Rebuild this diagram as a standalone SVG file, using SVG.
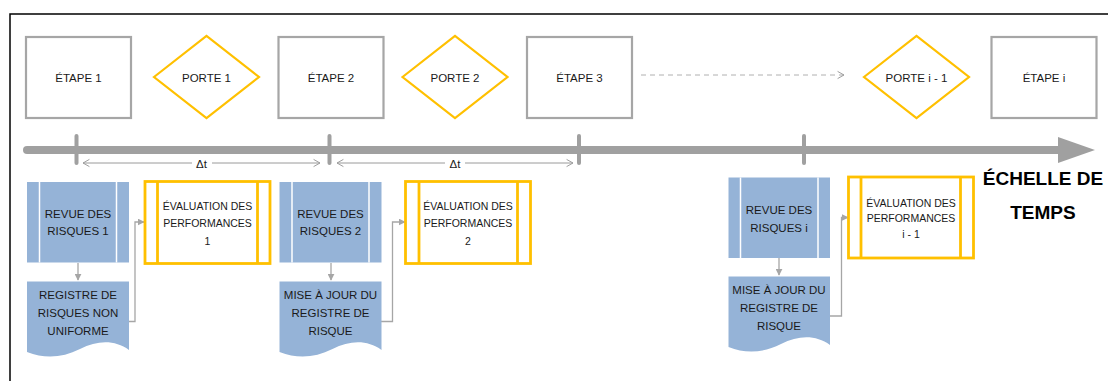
<svg xmlns="http://www.w3.org/2000/svg" width="1108" height="381" viewBox="0 0 1108 381">
<defs>
<style>
text{font-family:"Liberation Sans",Arial,sans-serif;fill:#1a1a1a;text-anchor:middle}
.lbl{font-size:11.5px}
.ev{font-size:10.5px}
.big{font-size:19px;font-weight:bold;fill:#000}
.etape{fill:#fff;stroke:#a6a6a6;stroke-width:2.2}
.porte{fill:#fff;stroke:#ffc000;stroke-width:2.2}
.blue{fill:#95b3d7}
.sep{stroke:#fff;stroke-width:1.5}
.eval{fill:#fff;stroke:#ffc000;stroke-width:2.8}
.conn{fill:none;stroke:#a6a6a6;stroke-width:1.3}
.dim{fill:none;stroke:#9a9a9a;stroke-width:1}
.tick{stroke:#a0a0a0;stroke-width:4;stroke-linecap:round}
</style>
<marker id="fa" viewBox="0 0 10 10" refX="9" refY="5" markerWidth="7" markerHeight="7" markerUnits="userSpaceOnUse" orient="auto">
<path d="M0,0 L10,5 L0,10 Z" fill="#a6a6a6"/>
</marker>
<marker id="oa" viewBox="0 0 10 10" refX="9" refY="5" markerWidth="8" markerHeight="10" markerUnits="userSpaceOnUse" orient="auto-start-reverse">
<path d="M1,0.5 L9,5 L1,9.5" fill="none" stroke="#9a9a9a" stroke-width="1.2"/>
</marker>
</defs>
<rect width="1108" height="381" fill="#fff"/>
<rect x="10" y="14" width="1200" height="500" fill="none" stroke="#000" stroke-width="1.5"/>

<g id="timeline">
<line x1="27" y1="150" x2="1060" y2="150" stroke="#a0a0a0" stroke-width="8" stroke-linecap="round"/>
<polygon points="1058,137 1095,150 1058,163" fill="#a0a0a0"/>
<line class="tick" x1="76.5" y1="136" x2="76.5" y2="163"/>
<line class="tick" x1="329.5" y1="136" x2="329.5" y2="163"/>
<line class="tick" x1="579" y1="136" x2="579" y2="163"/>
<line class="tick" x1="804" y1="136" x2="804" y2="163"/>
</g>

<g id="connectors">
<line class="dim" x1="83" y1="163" x2="320" y2="163" marker-start="url(#oa)" marker-end="url(#oa)"/>
<line class="dim" x1="337" y1="163" x2="573" y2="163" marker-start="url(#oa)" marker-end="url(#oa)"/>
<rect x="192" y="156" width="20" height="13" fill="#fff"/>
<rect x="445" y="156" width="20" height="13" fill="#fff"/>
<text class="lbl" x="201.5" y="167.5">Δt</text>
<text class="lbl" x="455" y="167.5">Δt</text>
<line x1="641" y1="75" x2="844" y2="75" stroke="#b0b0b0" stroke-width="1" stroke-dasharray="5,4" marker-end="url(#oa)"/>
<line class="conn" x1="78" y1="263" x2="78" y2="280" marker-end="url(#fa)"/>
<line class="conn" x1="331" y1="263" x2="331" y2="280" marker-end="url(#fa)"/>
<line class="conn" x1="779" y1="258" x2="779" y2="275" marker-end="url(#fa)"/>
<polyline class="conn" points="129,321.5 135,321.5 135,222 144,222" marker-end="url(#fa)"/>
<polyline class="conn" points="381,321.5 392.5,321.5 392.5,222 405,222" marker-end="url(#fa)"/>
<polyline class="conn" points="830,316 841.5,316 841.5,217.5 848,217.5" marker-end="url(#fa)"/>
</g>

<g id="etape1"><rect class="etape" x="26" y="37" width="105" height="81"/><text class="lbl" x="78.5" y="81.5">ÉTAPE 1</text></g>
<g id="porte1"><polygon class="porte" points="154,77 206.5,36 259,77 206.5,118"/><text class="lbl" x="206.5" y="81.5">PORTE 1</text></g>
<g id="etape2"><rect class="etape" x="278.5" y="37" width="105" height="81"/><text class="lbl" x="331" y="81.5">ÉTAPE 2</text></g>
<g id="porte2"><polygon class="porte" points="402.5,77 455,36 507.5,77 455,118"/><text class="lbl" x="455" y="81.5">PORTE 2</text></g>
<g id="etape3"><rect class="etape" x="527" y="37" width="105" height="81"/><text class="lbl" x="579.5" y="81.5">ÉTAPE 3</text></g>
<g id="portei1"><polygon class="porte" points="864,77 916.5,36 969,77 916.5,118"/><text class="lbl" x="916.5" y="81.5">PORTE i - 1</text></g>
<g id="etapei"><rect class="etape" x="991.5" y="37" width="105" height="81"/><text class="lbl" x="1044" y="81.5">ÉTAPE i</text></g>

<g id="revue1"><rect class="blue" x="27" y="182" width="102" height="80.5"/><line class="sep" x1="39.5" y1="182" x2="39.5" y2="262.5"/><line class="sep" x1="116.5" y1="182" x2="116.5" y2="262.5"/>
<text class="lbl" x="78" y="217.5">REVUE DES</text><text class="lbl" x="78" y="235">RISQUES 1</text></g>
<g id="registre1"><path class="blue" d="M27,281.5 H129 V350 C115,340 98,340 80,349 C62,358 45,359 27,352 Z"/>
<text class="lbl" x="78" y="299">REGISTRE DE</text><text class="lbl" x="78" y="317">RISQUES NON</text><text class="lbl" x="78" y="335">UNIFORME</text></g>
<g id="eval1"><rect class="eval" x="145" y="181.5" width="125" height="82"/><line class="eval" x1="157.5" y1="181.5" x2="157.5" y2="263.5"/><line class="eval" x1="257.5" y1="181.5" x2="257.5" y2="263.5"/>
<text class="ev" x="207.5" y="209.5">ÉVALUATION DES</text><text class="ev" x="207.5" y="227">PERFORMANCES</text><text class="ev" x="207.5" y="244.5">1</text></g>

<g id="revue2"><rect class="blue" x="279.5" y="182" width="102" height="80.5"/><line class="sep" x1="292" y1="182" x2="292" y2="262.5"/><line class="sep" x1="369" y1="182" x2="369" y2="262.5"/>
<text class="lbl" x="330.5" y="217.5">REVUE DES</text><text class="lbl" x="330.5" y="235">RISQUES 2</text></g>
<g id="registre2"><path class="blue" d="M279.5,281.5 H381.5 V350 C367.5,340 350.5,340 332.5,349 C314.5,358 297.5,359 279.5,352 Z"/>
<text class="lbl" x="330.5" y="299">MISE À JOUR DU</text><text class="lbl" x="330.5" y="317">REGISTRE DE</text><text class="lbl" x="330.5" y="335">RISQUE</text></g>
<g id="eval2"><rect class="eval" x="405.5" y="181.5" width="125" height="82"/><line class="eval" x1="419" y1="181.5" x2="419" y2="263.5"/><line class="eval" x1="517.5" y1="181.5" x2="517.5" y2="263.5"/>
<text class="ev" x="468" y="209.5">ÉVALUATION DES</text><text class="ev" x="468" y="227">PERFORMANCES</text><text class="ev" x="468" y="244.5">2</text></g>

<g id="revuei"><rect class="blue" x="728.5" y="177.5" width="101.5" height="80.5"/><line class="sep" x1="740.5" y1="177.5" x2="740.5" y2="258"/><line class="sep" x1="818" y1="177.5" x2="818" y2="258"/>
<text class="lbl" x="779" y="213.5">REVUE DES</text><text class="lbl" x="779" y="231.5">RISQUES i</text></g>
<g id="registrei"><path class="blue" d="M728.5,276.5 H830 V345 C816,335 799,335 781,344 C763,353 746,354 728.5,347 Z"/>
<text class="lbl" x="779" y="294">MISE À JOUR DU</text><text class="lbl" x="779" y="312">REGISTRE DE</text><text class="lbl" x="779" y="330">RISQUE</text></g>
<g id="evali1"><rect class="eval" x="848.5" y="177" width="125" height="81"/><line class="eval" x1="861" y1="177" x2="861" y2="258"/><line class="eval" x1="960.5" y1="177" x2="960.5" y2="258"/>
<text class="ev" x="911" y="206.5">ÉVALUATION DES</text><text class="ev" x="911" y="222">PERFORMANCES</text><text class="ev" x="911" y="238">i - 1</text></g>

<g id="echelle"><text class="big" x="1043" y="185">ÉCHELLE DE</text><text class="big" x="1043" y="219">TEMPS</text></g>
</svg>
